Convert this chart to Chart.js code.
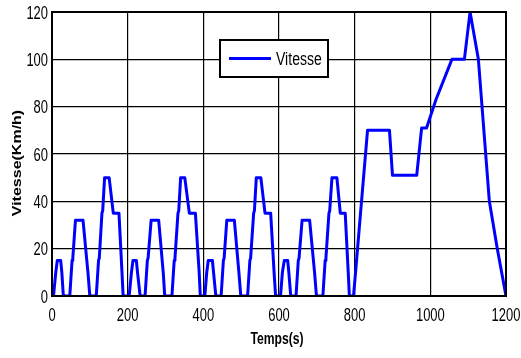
<!DOCTYPE html>
<html>
<head>
<meta charset="utf-8">
<script src="https://cdn.jsdelivr.net/npm/chart.js@4.4.1/dist/chart.umd.min.js"></script>
<style>
  html, body { margin: 0; padding: 0; background: #fff; }
  #wrap { width: 521px; height: 358px; position: relative; }
</style>
</head>
<body>
<div id="wrap"><canvas id="c" width="521" height="358"></canvas></div>
<script>
// Time (s)
const timeSeconds = [
  0, 4, 10, 14, 23, 26, 30, 47, 53, 55, 62, 82, 95, 100, 117, 123, 125, 132, 134, 139, 151, 162, 177, 185, 188,
  204, 210, 214, 223, 226, 233, 246, 252, 254, 262, 282, 294, 298, 317, 323, 325, 333, 335, 340, 351, 363, 379, 389, 392,
  404, 409, 413, 424, 427, 433, 447, 453, 455, 462, 482, 494, 499, 517, 523, 525, 533, 535, 540, 552, 563, 578, 587, 591,
  604, 609, 614, 623, 626, 631, 645, 651, 653, 661, 681, 694, 699, 716, 722, 724, 732, 734, 740, 753, 762, 775, 783, 786,
  797, 805, 816, 834, 892, 900, 964, 977, 990, 1015, 1057, 1090, 1105, 1127, 1156, 1177, 1200
];
// Speed (km/h)
const speedKmh = [
  0, 0, 10, 15, 15, 10, 0, 0, 15, 16, 32, 32, 10, 0, 0, 15, 16, 35, 36, 50, 50, 35, 35, 10, 0,
  0, 10, 15, 15, 10, 0, 0, 15, 16, 32, 32, 10, 0, 0, 15, 16, 35, 36, 50, 50, 35, 35, 10, 0,
  0, 10, 15, 15, 10, 0, 0, 15, 16, 32, 32, 10, 0, 0, 15, 16, 35, 36, 50, 50, 35, 35, 10, 0,
  0, 10, 15, 15, 10, 0, 0, 15, 16, 32, 32, 10, 0, 0, 15, 16, 35, 36, 50, 50, 35, 35, 10, 0,
  0, 15, 36, 70, 70, 51, 51, 71, 71, 83, 100, 100, 120, 100, 40, 20, 0
];
const seriesName = 'Vitesse';
const xTicks = [0, 200, 400, 600, 800, 1000, 1200];
const yTicks = [0, 20, 40, 60, 80, 100, 120];
const xTitle = 'Temps(s)';
const yTitle = 'Vitesse(Km/h)';

const points = timeSeconds.map((t, i) => ({ x: t, y: speedKmh[i] }));

const SANS = "'Liberation Sans', Arial, sans-serif";
const SQUEEZE = 0.76; // condensed look of the original figure

function squeezedText(ctx, text, x, y, align, baseline, font, sx) {
  ctx.save();
  ctx.font = font;
  ctx.textAlign = align;
  ctx.textBaseline = baseline;
  ctx.translate(x, y);
  ctx.scale(sx, 1);
  ctx.fillText(text, 0, 0);
  ctx.restore();
}

const textAndFrame = {
  id: 'textAndFrame',
  afterDatasetsDraw(chart) {
    const { ctx, chartArea: a } = chart;
    const xs = chart.scales.x, ys = chart.scales.y;
    ctx.save();
    // frame
    ctx.strokeStyle = '#000';
    ctx.lineWidth = 2;
    ctx.strokeRect(a.left, a.top, a.right - a.left, a.bottom - a.top);
    ctx.fillStyle = '#000';
    // tick labels
    const tickFont = '18px ' + SANS;
    xs.ticks.forEach(t => {
      squeezedText(ctx, String(t.value), xs.getPixelForValue(t.value), a.bottom + 25, 'center', 'alphabetic', tickFont, 0.72);
    });
    ys.ticks.forEach(t => {
      squeezedText(ctx, String(t.value), a.left - 4, ys.getPixelForValue(t.value) + 6.5, 'right', 'alphabetic', tickFont, 0.72);
    });
    // axis titles
    squeezedText(ctx, xTitle, (a.left + a.right) / 2 - 2, 340, 'center', 'middle', 'bold 16px ' + SANS, SQUEEZE);
    ctx.save();
    ctx.translate(17.5, 163);
    ctx.scale(SQUEEZE, 1);
    ctx.rotate(-Math.PI / 2);
    ctx.font = 'bold 16px ' + SANS;
    ctx.textAlign = 'center';
    ctx.textBaseline = 'middle';
    ctx.fillText(yTitle, 0, 0);
    ctx.restore();
    // legend box
    const bx = 220, by = 40, bw = 108, bh = 37;
    ctx.fillStyle = '#fff';
    ctx.fillRect(bx, by, bw, bh);
    ctx.strokeStyle = '#000';
    ctx.lineWidth = 2;
    ctx.strokeRect(bx, by, bw, bh);
    const ds = chart.data.datasets[0];
    ctx.strokeStyle = ds.borderColor;
    ctx.lineWidth = 3;
    ctx.beginPath();
    ctx.moveTo(229, by + bh / 2);
    ctx.lineTo(271, by + bh / 2);
    ctx.stroke();
    ctx.fillStyle = '#000';
    squeezedText(ctx, ds.label, 276, by + bh / 2 + 6.5, 'left', 'alphabetic', '18px ' + SANS, 0.78);
    ctx.restore();
  }
};

new Chart(document.getElementById('c'), {
  type: 'line',
  data: {
    datasets: [{
      label: seriesName,
      data: points,
      borderColor: '#0000ff',
      borderWidth: 3,
      borderJoinStyle: 'round',
      borderCapStyle: 'round',
      pointRadius: 0,
      tension: 0,
      fill: false
    }]
  },
  options: {
    responsive: false,
    animation: false,
    devicePixelRatio: 1,
    layout: { padding: { left: 0, top: 12, right: 15, bottom: 0 } },
    plugins: { legend: { display: false }, tooltip: { enabled: false } },
    scales: {
      x: {
        type: 'linear',
        min: 0, max: 1200,
        afterBuildTicks(scale) { scale.ticks = xTicks.map(v => ({ value: v })); },
        afterFit(scale) { scale.height = 62; },
        ticks: { display: false },
        grid: { color: '#000', lineWidth: 1.2, drawTicks: false },
        border: { color: '#000', width: 2 },
        title: { display: false, text: xTitle }
      },
      y: {
        type: 'linear',
        min: 0, max: 120,
        afterBuildTicks(scale) { scale.ticks = yTicks.map(v => ({ value: v })); },
        afterFit(scale) { scale.width = 52; },
        ticks: { display: false },
        grid: { color: '#000', lineWidth: 1.2, drawTicks: false },
        border: { color: '#000', width: 2 },
        title: { display: false, text: yTitle }
      }
    }
  },
  plugins: [textAndFrame]
});
</script>
</body>
</html>
